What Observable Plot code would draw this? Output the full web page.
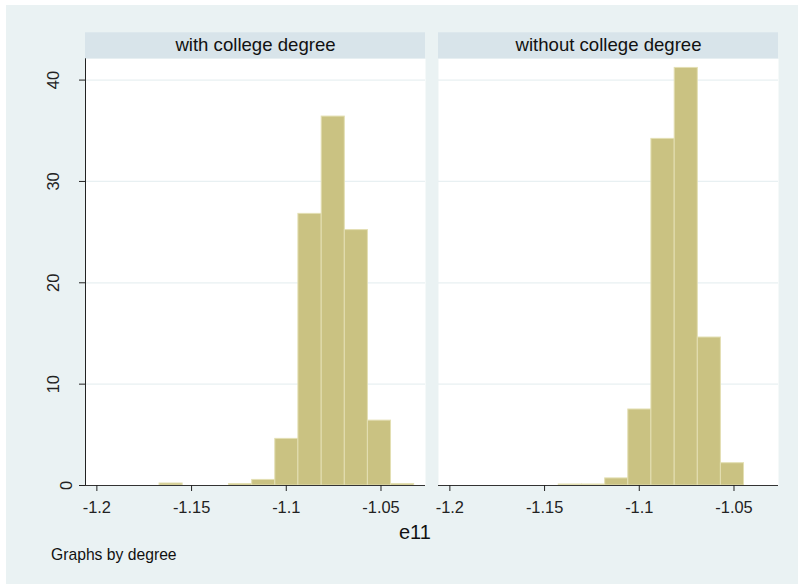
<!DOCTYPE html>
<html>
<head>
<meta charset="utf-8">
<script src="https://cdn.jsdelivr.net/npm/d3@7"></script>
<script src="https://cdn.jsdelivr.net/npm/@observablehq/plot@0.6"></script>
<style>
  body { margin: 0; background: #ffffff; }
  #page { position: relative; width: 798px; height: 584px; overflow: hidden; font-family: "Liberation Sans", Arial, sans-serif; color: #111; }
  #bg { position: absolute; left: 6px; top: 5px; right: 0; bottom: 0; background: #eaf2f3; }
  #chart { position: absolute; left: 0; top: 0; }
  #xtitle { position: absolute; left: 399px; top: 522px; font-size: 20px; line-height: 20px; white-space: nowrap; }
  #note { position: absolute; left: 51px; top: 547px; font-size: 15.7px; line-height: 15.7px; white-space: nowrap; }
</style>
</head>
<body>
<div id="page">
  <div id="bg"></div>
  <div id="chart"></div>
  <div id="xtitle">e11</div>
  <div id="note">Graphs by degree</div>
</div>
<script>
// Panels (one per degree group)
const groups = ["with college degree", "without college degree"];

// Histogram bin edges of e11 (shared by both panels)
const binEdges = [-1.2036, -1.1913, -1.1791, -1.1669, -1.1547, -1.1425, -1.1302,
                  -1.1180, -1.1058, -1.0936, -1.0813, -1.0691, -1.0569, -1.0447, -1.0325];

// Percent of observations in each bin
const pctWithDegree    = [0, 0, 0, 0.2, 0, 0, 0.15, 0.55, 4.6, 26.8, 36.4, 25.2, 6.4, 0.15];
const pctWithoutDegree = [0, 0, 0, 0, 0, 0.1, 0.1, 0.7, 7.5, 34.2, 41.2, 14.6, 2.2, 0];

// Axis ticks
const xTicks = [-1.2, -1.15, -1.1, -1.05];
const xTickLabels = ["-1.2", "-1.15", "-1.1", "-1.05"];
const yTicks = [0, 10, 20, 30, 40];
const yTickLabels = ["0", "10", "20", "30", "40"];

const xDomain = [-1.206, -1.0265];
const yDomain = [0, 42.1];

// Long table of non-empty bins
const bins = [];
[pctWithDegree, pctWithoutDegree].forEach((pcts, g) => {
  pcts.forEach((p, i) => {
    if (p > 0) bins.push({group: groups[g], x1: binEdges[i], x2: binEdges[i + 1], pct: p});
  });
});

// rotated y labels: the single-digit label sits closer to the axis
const yAxisStyle = {tickSize: 6, tickRotate: -90, fontSize: 16.4, color: "#222", label: null,
                    tickFormat: d => yTickLabels[yTicks.indexOf(d)]};

const chart = Plot.plot({
  width: 798,
  height: 520,
  marginLeft: 85,
  marginRight: 19,
  marginTop: 58.3,
  marginBottom: 35,
  style: {background: "transparent", fontFamily: "'Liberation Sans', Arial, sans-serif", color: "#111"},
  fx: {domain: groups, paddingInner: 0.0368, paddingOuter: 0, axis: null, label: null},
  x: {domain: xDomain, label: null},
  y: {domain: yDomain, label: null},
  marks: [
    // white plot region of each panel
    Plot.frame({fill: "#ffffff", stroke: null}),
    // horizontal grid
    Plot.ruleY(yTicks.filter(t => t > 0), {stroke: "#e8f0f2", strokeWidth: 1.2}),
    // panel title strips
    Plot.rect(groups, {fx: d => d, x1: xDomain[0], x2: xDomain[1], y1: yDomain[1], y2: yDomain[1],
                       insetTop: -26, fill: "#d8e4ea"}),
    Plot.text(groups, {fx: d => d, text: d => d, frameAnchor: "top", lineAnchor: "middle", dy: -13.5,
                       fontSize: 18.6, fill: "#111"}),
    // histogram bars
    Plot.rect(bins, {fx: "group", x1: "x1", x2: "x2", y1: 0, y2: "pct",
                     fill: "#cac282", stroke: "#e3dfb3", strokeWidth: 1}),
    // axis lines
    Plot.ruleY([0], {stroke: "#333", strokeWidth: 1}),
    Plot.ruleX([groups[0]], {fx: d => d, x: xDomain[0], stroke: "#222", strokeWidth: 1}),
    Plot.axisX({ticks: xTicks, tickFormat: (d, i) => xTickLabels[i], tickSize: 6, tickPadding: 10,
                fontSize: 16.4, color: "#222", label: null}),
    Plot.axisY({...yAxisStyle, ticks: yTicks.filter(t => t < 10), tickPadding: 8}),
    Plot.axisY({...yAxisStyle, ticks: yTicks.filter(t => t >= 10), tickPadding: 20.5})
  ]
});

document.getElementById("chart").appendChild(chart);
</script>
</body>
</html>
